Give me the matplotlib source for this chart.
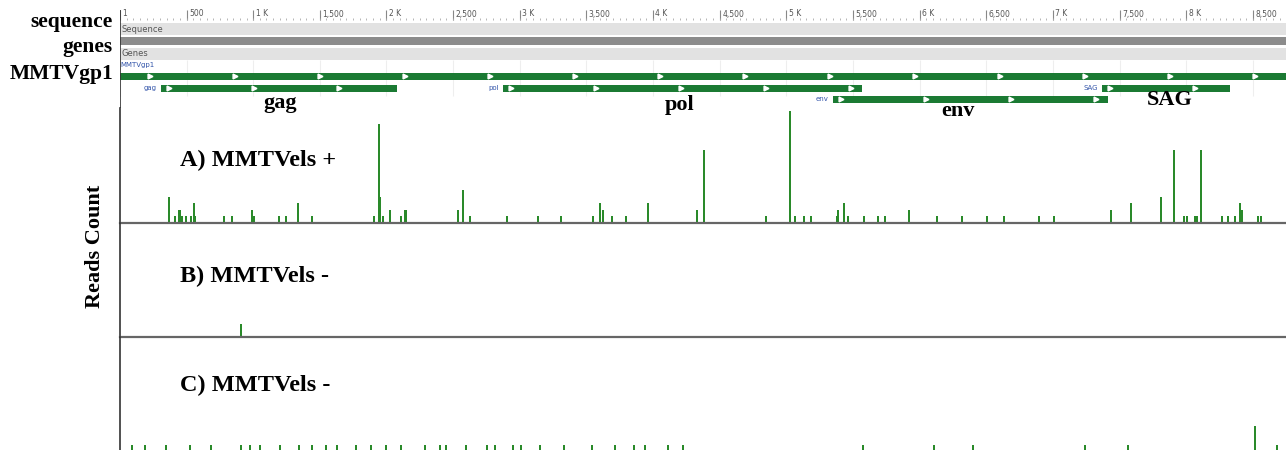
import numpy as np
import matplotlib
matplotlib.use("Agg")
import matplotlib.pyplot as plt

# ---- dados (posicoes em pb, contagens de reads) ----
genoma_fim = 8748
ruler_ticks = [1, 500, 1000, 1500, 2000, 2500, 3000, 3500, 4000, 4500,
               5000, 5500, 6000, 6500, 7000, 7500, 8000, 8500]
ruler_labels = ['1', '500', '1 K', '1,500', '2 K', '2,500', '3 K', '3,500', '4 K',
                '4,500', '5 K', '5,500', '6 K', '6,500', '7 K', '7,500', '8 K', '8,500']

genes_nome = ['gag', 'pol', 'env', 'SAG']
genes_inicio = [308, 2873, 5349, 7367]
genes_fim = [2078, 5566, 7412, 8327]
genes_linha = [1, 1, 2, 1]
mmtvgp1_inicio, mmtvgp1_fim = 1, genoma_fim

pos_A = [368, 413, 443, 451, 466, 496, 533, 556, 563, 781, 841, 991, 1006, 1194, 1246,
         1336, 1441, 1906, 1951, 1944, 1974, 2026, 2109, 2139, 2146, 2536, 2574, 2626,
         2904, 3137, 3309, 3549, 3602, 3624, 3692, 3797, 3962, 4330, 4382, 4847, 5027,
         5065, 5132, 5185, 5380, 5387, 5432, 5462, 5582, 5687, 5740, 5920, 6130, 6317,
         6505, 6632, 6895, 7007, 7435, 7585, 7810, 7908, 7983, 8005, 8065, 8080, 8110,
         8268, 8313, 8365, 8403, 8418, 8538, 8560]
reads_A = [4, 1, 2, 2, 1, 1, 1, 3, 1, 1, 1, 2, 1, 1, 1,
           3, 1, 1, 4, 15, 1, 2, 1, 2, 2, 2, 5, 1,
           1, 1, 1, 1, 3, 2, 1, 1, 3, 2, 11, 1, 17,
           1, 1, 1, 1, 2, 3, 1, 1, 1, 1, 2, 1, 1,
           1, 1, 1, 1, 2, 3, 4, 11, 1, 1, 1, 1, 11,
           1, 1, 1, 3, 2, 1, 1]

pos_B = [909]
reads_B = [2]

pos_C = [91, 189, 346, 526, 684, 909, 976, 1051, 1201, 1344, 1441, 1546, 1629, 1771,
         1884, 1996, 2109, 2289, 2401, 2446, 2596, 2754, 2814, 2949, 3009, 3152, 3332,
         3542, 3714, 3857, 3939, 4112, 4224, 5575, 6108, 6400, 7241, 7563, 8516, 8681]
reads_C = [1, 1, 1, 1, 1, 1, 1, 1, 1, 1, 1, 1, 1, 1,
           1, 1, 1, 1, 1, 1, 1, 1, 1, 1, 1, 1, 1,
           1, 1, 1, 1, 1, 1, 1, 1, 1, 1, 1, 4, 1]

titulos = ['A) MMTVels +', 'B) MMTVels -', 'C) MMTVels -']

verde_gene = '#1b7a33'
verde_reads = '#2a8a2a'
serif = ['Liberation Serif', 'DejaVu Serif']

W, H = 1286, 450
fig = plt.figure(figsize=(W / 100, H / 100), dpi=100)
L = 120 / W


def caixa(y_topo, y_base):
    # retangulo em fracao da figura a partir de pixels
    return [L, 1 - y_base / H, 1 - L, (y_base - y_topo) / H]


# ---- cabecalho (regua + faixas + genes), y em pixels ----
axh = fig.add_axes(caixa(0, 108))
axh.set_xlim(1, genoma_fim)
axh.set_ylim(108, 0)
axh.axis('off')

# regua
for t, lab in zip(ruler_ticks, ruler_labels):
    axh.vlines(t, 10, 20, color='#888888', lw=0.8)
    axh.text(t + 18, 14, lab, fontsize=5.5, color='#555555', va='center', ha='left')
    axh.vlines(t, 60, 96, color='#eeeeee', lw=0.8, zorder=0)
axh.vlines(np.arange(50, genoma_fim, 50), 18, 20, color='#aaaaaa', lw=0.6)

# faixas cinzas
axh.barh(29, genoma_fim, left=1, height=12, color='#e2e2e2')
axh.barh(40.5, genoma_fim, left=1, height=8, color='#8c8c8c')
axh.barh(53.5, genoma_fim, left=1, height=12, color='#e2e2e2')
axh.text(12, 29, 'Sequence', fontsize=6, color='#555555', va='center')
axh.text(12, 53.5, 'Genes', fontsize=6, color='#555555', va='center')

# MMTVgp1
axh.text(5, 65, 'MMTVgp1', fontsize=5, color='#3355aa', va='center')
axh.barh(76, mmtvgp1_fim - mmtvgp1_inicio, left=mmtvgp1_inicio, height=7, color=verde_gene)
setas_gp1 = np.arange(225, genoma_fim, 638)
axh.plot(setas_gp1, [76] * len(setas_gp1), ls='none', marker='>', ms=3.5,
         color='white', mec='white')

# genes
for nome, ini, fim, linha in zip(genes_nome, genes_inicio, genes_fim, genes_linha):
    y = 88 if linha == 1 else 99
    axh.barh(y, fim - ini, left=ini, height=7, color=verde_gene)
    setas = np.arange(ini + 60, fim - 20, 638)
    axh.plot(setas, [y] * len(setas), ls='none', marker='>', ms=3.5, color='white', mec='white')
    axh.text(ini - 30, y, nome, fontsize=5, color='#3355aa', va='center', ha='right')

axh.vlines(1, 10, 108, color='#333333', lw=1.2)

# nomes grandes dos genes
rotulos_pos = [(1200, 103), (4200, 105), (6290, 111), (7877, 100)]
for nome, (x, y) in zip(genes_nome, rotulos_pos):
    axh.text(x, y, nome, fontsize=16, fontweight='bold', family=serif,
             ha='center', va='center', clip_on=False)

# rotulos da esquerda
for txt, y in [('sequence', 22), ('genes', 47), ('MMTVgp1', 74)]:
    fig.text(113 / W, 1 - y / H, txt, fontsize=15.5, fontweight='bold', family=serif,
             ha='right', va='center')

fig.text(95 / W, 1 - 246 / H, 'Reads Count', fontsize=16, fontweight='bold', family=serif,
         rotation=90, ha='center', va='center')

# ---- paineis de reads ----
paineis = [(108, 223, pos_A, reads_A), (223, 337, pos_B, reads_B), (337, 452, pos_C, reads_C)]
titulo_y = [160, 276, 385]
for (topo, base, pos, reads), tit, ty in zip(paineis, titulos, titulo_y):
    ax = fig.add_axes(caixa(topo, base))
    ax.set_xlim(1, genoma_fim)
    ax.set_ylim(0, (base - topo) / 6.6)
    ax.bar(pos, reads, width=12, color=verde_reads, linewidth=0)
    ax.set_xticks([])
    ax.set_yticks([])
    ax.patch.set_alpha(0)
    for s in ['top', 'right']:
        ax.spines[s].set_visible(False)
    ax.spines['left'].set_color('#333333')
    ax.spines['left'].set_linewidth(1.2)
    ax.spines['bottom'].set_color('#666666')
    ax.spines['bottom'].set_linewidth(1.6)
    fig.text(180 / W, 1 - ty / H, tit, fontsize=17.5, fontweight='bold', family=serif,
             ha='left', va='center')

plt.savefig('out.png', dpi=100)
